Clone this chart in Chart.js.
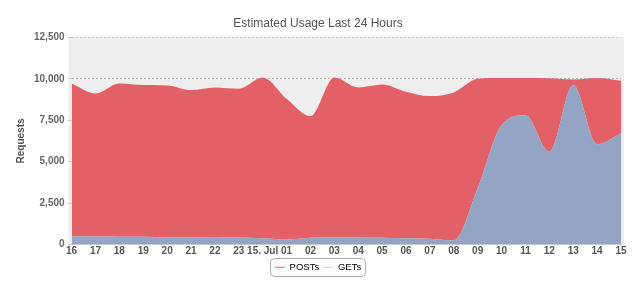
<!DOCTYPE html>
<html lang="en">
<head>
    <meta charset="UTF-8">
    <title>Estimated Usage Last 24 Hours</title>
    <style>
        body {
            margin: 0;
            padding: 0;
            background-color: white;
        }
        #wrap {
            width: 640px;
            height: 282px;
        }
    </style>
    <script src="https://cdn.jsdelivr.net/npm/chart.js"></script>
</head>
<body>
    <div id="wrap">
        <canvas id="myCanvas" width="640" height="282"></canvas>
    </div>

    <script>
        "use strict";

        // hourly labels
        const hours = ['16', '17', '18', '19', '20', '21', '22', '23', '15. Jul',
            '01', '02', '03', '04', '05', '06', '07', '08', '09', '10', '11', '12', '13', '14', '15'];

        // request counts
        const gets = [500, 480, 470, 470, 430, 430, 450, 420, 380,
            300, 400, 420, 420, 400, 380, 350, 250, 3400, 7200, 7800, 5600, 9620, 6050, 6700];
        const totals = [9720, 9120, 9720, 9620, 9600, 9320, 9480, 9400, 10080,
            8800, 7750, 10080, 9480, 9660, 9220, 8960, 9180, 10000, 10050, 10050, 10030, 9960, 10050, 9880];
        const posts = totals.map((t, i) => t - gets[i]);

        const yTicks = [0, 2500, 5000, 7500, 10000, 12500];

        const red = 'rgb(227, 97, 102)';
        const blue = 'rgb(148, 164, 196)';

        const plotBg = {
            id: 'plotBg',
            beforeDraw(chart) {
                const { ctx, chartArea: a } = chart;
                ctx.save();
                ctx.fillStyle = '#eeeeee';
                ctx.fillRect(a.left - 3, a.top, a.width + 6, a.bottom - a.top);
                ctx.restore();
            }
        };

        // rounded border around the legend items
        const legendBox = {
            id: 'legendBox',
            afterDraw(chart) {
                const boxes = chart.legend.legendHitBoxes;
                if (!boxes || !boxes.length) return;
                const ctx = chart.ctx;
                const left = Math.min(...boxes.map(b => b.left));
                const right = Math.max(...boxes.map(b => b.left + b.width));
                const mid = boxes[0].top + boxes[0].height / 2;
                const x = Math.round(left - 5) + 0.5;
                const w = Math.round(right - left + 9);
                const y = Math.round(mid - 9) + 0.5;
                ctx.save();
                ctx.strokeStyle = '#b0b0b0';
                ctx.lineWidth = 1;
                ctx.beginPath();
                ctx.roundRect(x, y, w, 18, 4);
                ctx.stroke();
                ctx.restore();
            }
        };

        const ctx = document.getElementById('myCanvas').getContext('2d');

        new Chart(ctx, {
            type: 'line',
            data: {
                labels: hours,
                datasets: [
                    {
                        label: 'GETs',
                        data: gets,
                        backgroundColor: blue,
                        borderColor: blue,
                        borderWidth: 0,
                        pointRadius: 0,
                        fill: 'origin',
                        cubicInterpolationMode: 'monotone'
                    },
                    {
                        label: 'POSTs',
                        data: posts,
                        backgroundColor: red,
                        borderColor: red,
                        borderWidth: 0,
                        pointRadius: 0,
                        fill: '-1',
                        cubicInterpolationMode: 'monotone'
                    }
                ]
            },
            options: {
                responsive: false,
                animation: false,
                layout: {
                    padding: { left: 15, right: 19, top: 4, bottom: 0 }
                },
                scales: {
                    x: {
                        offset: false,
                        grid: { display: false, drawTicks: false, tickLength: 0 },
                        border: { color: '#cccccc' },
                        ticks: {
                            autoSkip: false,
                            maxRotation: 0,
                            padding: 1,
                            color: '#555',
                            font: { size: 10, weight: 'bold', family: 'Liberation Sans' }
                        }
                    },
                    y: {
                        stacked: true,
                        min: 0,
                        max: 12500,
                        z: 1,
                        afterBuildTicks(scale) {
                            scale.ticks = yTicks.map(v => ({ value: v }));
                        },
                        grid: {
                            color: ctx => ctx.tick && ctx.tick.value === 12500 ? '#c4c4c4' : 'rgba(110, 110, 110, 0.45)',
                            tickLength: 4,
                            tickColor: '#cccccc'
                        },
                        border: { display: false, dash: [2, 2] },
                        title: {
                            display: true,
                            text: 'Requests',
                            color: '#555',
                            padding: { top: 0, bottom: 4 },
                            font: { size: 10, weight: 'bold', family: 'Liberation Sans' }
                        },
                        ticks: {
                            color: '#666',
                            padding: 3,
                            font: { size: 10, weight: 'bold', family: 'Liberation Sans' }
                        }
                    }
                },
                plugins: {
                    title: {
                        display: true,
                        text: 'Estimated Usage Last 24 Hours',
                        color: '#555',
                        padding: { top: 12, bottom: 7 },
                        font: { size: 12, weight: 'normal', family: 'Liberation Sans' }
                    },
                    legend: {
                        position: 'bottom',
                        reverse: true,
                        labels: {
                            boxWidth: 10,
                            boxHeight: 1,
                            padding: 4,
                            color: '#555',
                            font: { size: 9.5, family: 'Liberation Sans' },
                            generateLabels(chart) {
                                return chart.data.datasets.map((ds, i) => ({
                                    text: ds.label,
                                    fillStyle: ds.label === 'POSTs' ? red : '#c8cfdc',
                                    strokeStyle: ds.label === 'POSTs' ? red : '#c8cfdc',
                                    lineWidth: 0,
                                    datasetIndex: i,
                                    hidden: false
                                }));
                            }
                        }
                    },
                    tooltip: { enabled: false }
                }
            },
            plugins: [plotBg, legendBox]
        });
    </script>
</body>
</html>
